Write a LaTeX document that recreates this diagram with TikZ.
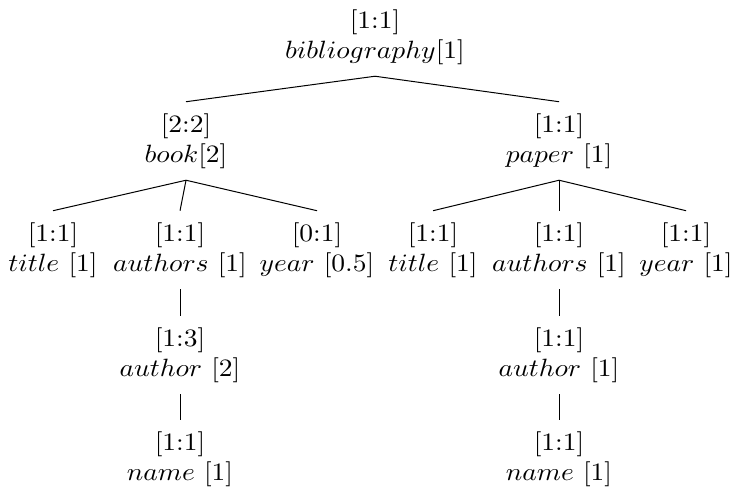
\documentclass[tikz,border=0pt]{standalone}
\begin{document}
\begin{tikzpicture}[xscale=1.1,x=0.36364pt,y=0.4pt,
  elem/.style={align=center,inner xsep=2pt,inner ysep=4.5pt,transform shape}]
\useasboundingbox (0,0) rectangle (732,491);
\node[elem] (bib) at (375,454) {[1:1]\\ $bibliography$[1]};
\node[elem] (book) at (186,350) {[2:2]\\ $book$[2]};
\node[elem] (paper) at (559,350) {[1:1]\\ $paper$ [1]};
\node[elem] (btitle) at (53,241) {[1:1]\\ $title$ [1]};
\node[elem] (bauthors) at (180,241) {[1:1]\\ $authors$ [1]};
\node[elem] (byear) at (317,241) {[0:1]\\ $year$ [0.5]};
\node[elem] (ptitle) at (433,241) {[1:1]\\ $title$ [1]};
\node[elem] (pauthors) at (559,241) {[1:1]\\ $authors$ [1]};
\node[elem] (pyear) at (686,241) {[1:1]\\ $year$ [1]};
\node[elem] (bauthor) at (180,136) {[1:3]\\ $author$ [2]};
\node[elem] (pauthor) at (559,136) {[1:1]\\ $author$ [1]};
\node[elem] (bname) at (180,32) {[1:1]\\ $name$ [1]};
\node[elem] (pname) at (559,32) {[1:1]\\ $name$ [1]};
\draw (bib.south) -- (book.north);
\draw (bib.south) -- (paper.north);
\draw (book.south) -- (btitle.north);
\draw (book.south) -- (bauthors.north);
\draw (book.south) -- (byear.north);
\draw (paper.south) -- (ptitle.north);
\draw (paper.south) -- (pauthors.north);
\draw (paper.south) -- (pyear.north);
\draw (bauthors.south) -- (bauthor.north);
\draw (pauthors.south) -- (pauthor.north);
\draw (bauthor.south) -- (bname.north);
\draw (pauthor.south) -- (pname.north);
\end{tikzpicture}
\end{document}
